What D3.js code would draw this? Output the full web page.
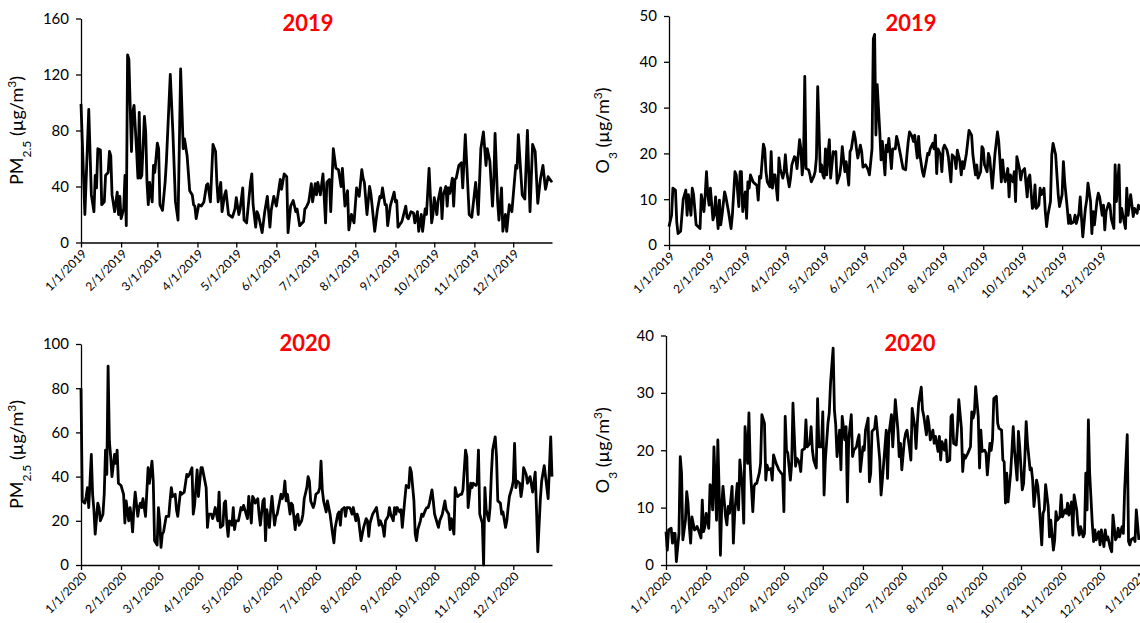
<!DOCTYPE html>
<html lang="en">
<head>
	<title>PM2.5 and O3, 2019 - 2020</title>
	<meta charset="utf-8">
	<script src="https://d3js.org/d3.v7.min.js" charset="utf-8"></script>
	<style>
		body { margin: 0; background: #fff; }
		svg text { font-family: Lato, "Open Sans", sans-serif; }
	</style>
</head>
<body>
	<script>
		// daily means, as (day of year, value) in two parallel arrays
		var pm2019Day = [
			0,3,6,8,10,11,12,13,15,16, 18,19,21,22,23,24,26,28,29,30,
			31,33,34,35,36,37,39,40,41,43, 44,45,46,47,49,50,51,52,53,55,
			56,57,59,60,61,63,65,66,69,71, 73,75,77,79,80,82,84,86,87,88,
			89,91,93,95,97,98,100,102,104,105, 106,108,109,111,112,114,117,119,120,122,
			123,125,126,128,131,132,133,135,136,137, 140,142,144,146,147,149,151,154,155,157,
			159,160,162,164,166,167,169,172,173,174, 176,178,179,181,182,183,185,187,189,190,
			192,193,195,197,199,201,202,204,206,207, 209,211,213,215,217,218,219,221,223,224,
			227,229,231,232,233,235,236,237,239,242, 243,244,245,248,251,252,253,255,257,258,
			260,261,263,264,266,267,269,271,272,273, 275,276,278,279,280,282,283,284,285,287,
			288,289,290,292,294,295,297,298,300,302, 305,307,309,311,313,314,316,318,319,320,
			322,323,325,326,328,329,331,333,336,337, 338,340,341,343,345,347,349,351,353,355,
			357,359,361,364
		];
		var pm2019 = [
			99,20,95,34,22,48,39,67,66,27, 29,48,50,65,62,34,22,36,20,33,
			17,24,48,12,134,131,65,93,98,65, 46,93,46,48,90,79,43,27,43,29,
			55,50,71,67,27,23,43,58,120,79, 29,16,124,67,74,62,37,34,27,26,
			17,27,26,29,41,42,29,70,65,43, 29,43,22,34,37,20,18,24,32,20,
			24,39,16,14,43,49,27,11,22,20, 7,22,33,11,23,33,26,45,38,49,
			47,7,26,30,22,24,12,15,24,25, 29,42,29,42,34,43,34,49,14,43,
			45,22,67,53,52,40,53,26,37,9, 20,14,39,33,52,46,43,20,40,35,
			8,23,33,32,39,27,27,12,26,36, 29,30,11,15,26,18,17,22,21,14,
			22,8,20,8,24,20,53,14,20,32, 20,30,39,17,34,40,26,39,35,46,
			26,45,46,55,57,39,77,58,20,18, 43,20,67,79,55,67,58,26,43,78,
			29,16,39,8,20,8,27,22,55,53, 77,48,34,31,80,22,70,65,28,45,
			55,38,47,43
		];

		var o3_2019Day = [
			0,2,3,5,6,7,9,10,11,13, 14,15,17,18,19,21,24,25,27,28,
			29,30,31,32,34,35,36,38,39,40, 41,43,44,46,48,49,51,52,54,55,
			56,57,59,60,61,62,63,65,66,68, 69,70,71,73,74,75,76,78,79,80,
			81,82,84,85,86,88,89,90,91,93, 94,95,97,98,99,101,102,103,104,105,
			106,108,109,110,112,113,114,115,117,118, 119,120,121,122,123,124,125,127,128,129,
			130,132,133,134,136,137,139,140,141,143, 144,145,146,148,149,150,152,154,155,157,
			158,159,160,161,163,164,165,167,168,169, 170,172,173,175,176,177,179,180,181,183,
			184,185,186,188,189,190,192,193,194,196, 197,199,200,201,202,204,205,206,207,208,
			210,211,212,213,215,216,218,219,221,222, 223,225,226,227,228,230,232,234,235,237,
			238,239,241,242,243,244,246,247,248,250, 251,252,254,255,257,258,259,260,262,263,
			264,266,267,268,269,271,272,273,275,277, 278,279,281,282,283,284,286,287,288,290,
			291,292,293,295,296,297,299,300,301,302, 304,305,306,308,309,310,311,313,314,315,
			317,318,319,320,322,323,324,326,327,328, 329,331,332,333,335,336,337,338,340,341,
			342,344,345,346,348,349,350,351,353,354, 355,357,358,359,360,362,363,364
		];
		var o3_2019 = [
			4,6.5,12.4,12,5,2.5,3,6.5,10,12, 6.5,11,6.5,12.4,11,4.4,3.6,11,7.3,11,
			16,11,8.7,12.4,5.5,6.5,10.5,3.6,9.8,4.4, 6.5,11.6,10.5,7.3,3.6,6.5,16,15.3,8.4,16,
			16,7.3,11.6,5.8,13.8,12.4,15.3,13.8,13.5,13, 9.8,15,14.6,22,21,16,13.8,12.7,20.4,12.4,
			15.3,15.3,9.8,19,16.7,14.6,16,19.7,16,12.7, 14.6,17.5,19.3,19,16.7,23,21,15.3,18,36.8,
			16.7,16.4,15.3,13.8,15,16,19,34.6,16,17.5, 15.3,14.6,21,15.3,20,23,14.6,20.4,20,20.4,
			13.5,15.3,17.5,21.5,16,18.2,13.1,20.4,21,24.7, 23.3,21,19,21.8,20.4,17,17.5,16.4,15.3,21,
			45,46,24,35,24.7,18.6,22.6,15.3,21.8,20.4, 23.3,16.7,21,21,23.7,22.6,19.7,18.2,16.7,16.4,
			19.7,22.6,24.7,23.7,22.6,24,19,23.7,19.7,16, 15,18.2,20,19.7,21,22.2,21,24,15.6,21,
			19.7,16,21,21.8,20.7,19.3,13.8,19.7,19,16.7, 20.7,18.2,15.3,18.2,16.7,20,25,24,19.7,15.3,
			17.5,14.6,16,21.5,21,17.5,16,20,19,12.4, 16,19.7,24.7,22.6,13.8,18.6,15.3,13.8,16.7,10.5,
			15.3,13.8,16,9.5,19.3,16.7,14.2,16,16.7,10.5, 14.6,15.3,8,8.4,13.1,8,8.7,12.4,11,12.4,
			7.3,4,6.5,9.5,19.7,22.2,19.7,15.3,11,8.4, 11,18.2,13.8,8,4.7,6.5,4.7,5,6.5,4.7,
			6.9,10.5,5.8,1.8,8,9.8,13.5,9.5,2.5,7.3, 4.4,9.8,11.3,10.5,6.5,8.7,3.3,7.3,9.1,8.7,
			5.8,3.6,17.5,9.5,17.5,5,8,6.5,3.6,12.4, 6.5,11,8.7,6.2,8,6.9,8.7,7.6
		];

		var pm2020Day = [
			0,1,3,4,5,6,8,9,10,11, 13,14,15,17,18,19,20,21,22,23,
			24,26,27,28,29,31,33,34,35,37, 38,39,40,41,42,44,45,46,47,48,
			50,52,53,55,56,57,59,60,61,62, 63,64,66,68,69,70,71,73,74,75,
			77,78,80,82,83,84,86,87,88,90, 91,93,94,95,97,98,99,101,102,103,
			104,106,107,108,110,111,112,113,114,115, 117,118,119,120,122,124,125,126,128,129,
			130,132,133,134,135,137,138,139,141,142, 143,144,146,147,148,150,151,152,153,155,
			156,157,158,159,160,162,163,164,166,167, 168,169,171,172,173,175,176,177,178,180,
			181,182,184,185,186,187,188,190,191,192, 193,195,196,197,199,200,201,202,204,205,
			206,208,209,210,211,213,214,215,217,218, 219,221,222,223,224,226,227,229,231,232,
			234,235,236,238,239,240,242,243,244,245, 247,248,249,251,252,254,255,256,258,259,
			260,261,263,264,265,267,268,269,270,272, 273,274,276,277,278,280,281,282,283,285,
			286,287,289,290,291,292,294,295,296,298, 299,300,302,303,304,306,307,308,309,311,
			312,313,314,316,317,318,319,321,322,323, 325,326,327,329,330,331,332,334,335,336,
			337,338,340,341,342,343,345,346,348,350, 352,353,354,356,357,359,360,362,364,365
		];
		var pm2020 = [
			80,29,28,31,35,26,50,32,25,14, 28,26,20,23,32,52,41,90,56,49,
			40,50,46,52,37,36,32,19,29,20, 26,22,15,26,33,22,26,28,26,30,
			22,44,37,47,38,11,9,26,20,8, 14,15,22,22,29,35,31,32,25,22,
			33,32,33,41,40,41,44,23,27,43, 31,44,44,41,35,17,23,23,21,23,
			26,20,33,17,18,28,29,19,13,20, 18,26,16,20,20,26,25,27,23,21,
			31,19,31,30,28,30,23,18,29,30, 11,25,17,25,31,18,22,23,26,32,
			30,32,38,29,32,23,28,27,16,22, 23,18,20,23,30,35,40,38,29,26,
			28,32,33,35,47,34,29,24,29,26, 23,14,10,17,23,24,18,25,26,22,
			26,26,25,23,26,20,23,21,11,14, 17,21,20,13,19,23,24,26,18,20,
			17,13,20,22,26,23,20,26,23,26, 24,25,17,30,36,35,44,42,29,14,
			11,16,20,23,22,25,26,26,28,34, 29,23,19,17,20,23,26,29,25,23,
			16,21,14,35,32,31,32,32,34,52, 49,26,37,35,37,36,37,52,23,19,
			0,35,25,20,26,41,52,58,49,29, 28,23,24,17,20,26,31,35,38,55,
			35,38,37,31,35,44,41,37,40,33, 42,25,6,30,38,45,40,30,58,40
		];

		var o3_2020Day = [
			0,1,2,4,5,6,7,8,10,11, 12,13,15,16,17,18,19,20,22,23,
			24,25,27,28,29,30,31,33,34,35, 36,37,39,40,41,42,43,44,46,47,
			48,49,51,52,53,55,56,57,58,59, 60,61,63,64,65,67,68,69,70,72,
			73,74,76,77,78,79,81,82,83,85, 86,87,88,90,91,92,93,94,96,97,
			98,100,101,102,103,104,105,107,108,109, 111,112,113,114,116,117,118,120,121,122,
			123,125,126,127,129,130,131,132,134,135, 136,138,139,140,141,143,144,145,147,148,
			149,150,152,153,154,156,157,158,159,161, 162,163,165,166,167,168,170,171,172,174,
			175,176,177,179,180,181,182,184,185,186, 188,189,190,192,193,194,195,197,198,199,
			201,202,203,204,206,207,208,210,211,212, 213,215,216,217,219,220,221,222,224,225,
			226,228,229,230,231,233,235,236,237,238, 239,241,242,243,244,246,247,248,250,251,
			252,253,255,256,257,259,260,261,262,263, 264,266,267,268,269,271,272,273,275,276,
			277,278,279,281,282,283,284,286,287,288, 290,291,292,293,295,296,297,299,300,301,
			302,304,305,306,308,309,310,311,313,314, 315,317,318,319,320,322,323,324,325,326,
			327,329,330,331,332,334,335,336,338,339, 340,341,343,344,345,347,348,349,350,352,
			353,354,356,357,358,359,361,362,363,365
		];
		var o3_2020 = [
			5.8,2.6,6.1,6.4,3.8,5.5,5.5,0.6,5.5,18.9, 16,4.4,7.8,12.8,10.8,6.7,3.8,8.4,6.1,6.3,
			6.7,6.1,4.7,11.3,5.8,6.7,9,6.4,14,13.7, 9.6,20.6,7.8,21.8,13.1,1.7,10.2,13.7,8.4,7,
			10.2,9,13.7,3.8,9,14.2,9.6,18.3,16,13.1, 7.3,24.1,17.7,26.5,17.4,9.3,13.7,14.2,14.2,16,
			17.7,26.2,24.7,14.8,17.4,16.6,16.8,14.8,19.2,17.7, 17.2,16.6,16.3,15.7,9.3,25.9,20,19.5,14.8,17.7,
			28.2,17.2,18.6,18.3,17.7,16.3,20,20.3,25.3,20.6, 21.2,24.1,20,18.3,16.9,29,20.6,20.6,26.7,12.2,
			18.3,24.7,26.5,31.7,37.8,27,24.4,18.9,23.5,16.6, 25.9,21.8,24.1,11,21.8,26.2,18.9,20,20.6,21.8,
			22.7,16.3,20.6,20,23.5,25.6,14.5,16,23.3,23.8, 25.9,23.5,18.3,12.2,14.8,17.7,23.5,15.1,22.7,26.2,
			20.6,24.7,28.8,23.5,18.9,21.2,16.6,21.8,23,23.5, 20.3,18.3,27.3,24.1,20.3,24.7,28.2,31,27,25.9,
			22.7,25.9,24.4,21.8,23.5,21.2,22.4,19.8,22.4,18.3, 21.5,20,21.8,18,18.3,25.9,26.2,21.2,20.9,24.1,
			28.8,23.8,16.3,19.2,18.6,19.5,20.6,26.7,25.6,26.5, 31.1,25.9,16.9,23.5,19.8,20,19.5,15.7,21.2,20,
			21.8,29,29.4,24.7,23.8,23.5,18.3,18,10.8,16, 11,16,20,24.1,20,14.8,23.3,20.6,13.1,14.2,
			18.9,25,21.2,16.6,16.9,14.8,10.2,14.8,13.7,10.8, 3.5,9,9.6,14,10.2,4.9,7.8,2.6,4.4,9.3,
			7.8,8.4,12.2,8.4,9.6,9,10.8,8.7,11,5.2, 12.2,9.6,6.7,5.2,6.7,4.9,5.5,16,9.6,25.3,
			16,7.3,4.1,6.1,4.4,5.8,3.5,6.1,3.2,6.1, 4.4,4.9,2.9,2.3,8.7,4.4,4.9,6.4,4.9,6.7,
			5.5,13.1,22.7,4.1,3.5,4.4,4.7,4.1,9.6,4.4
		];

		// y tick labels for each panel
		var pmTicks2019 = [0, 40, 80, 120, 160];
		var o3Ticks2019 = [0, 10, 20, 30, 40, 50];
		var pmTicks2020 = [0, 20, 40, 60, 80, 100];
		var o3Ticks2020 = [0, 10, 20, 30, 40];

		var w = 1140;
		var h = 623;

		var svg = d3.select("body")
			.append("svg")
			.attr("width", w)
			.attr("height", h);

		// one entry per panel: where it sits and what goes in it
		var panels = [
			{ days: pm2019Day, vals: pm2019, start: new Date(2019, 0, 1), end: new Date(2019, 11, 31),
			  left: 81, right: 552, top: 18.5, bottom: 242.5, ticks: pmTicks2019,
			  title: "2019", titleX: 308, titleY: 31, pollutant: "PM", sub: "2.5", labelX: 23 },
			{ days: o3_2019Day, vals: o3_2019, start: new Date(2019, 0, 1), end: new Date(2019, 11, 31),
			  left: 669, right: 1139.7, top: 16, bottom: 245, ticks: o3Ticks2019,
			  title: "2019", titleX: 911, titleY: 31, pollutant: "O", sub: "3", labelX: 609 },
			{ days: pm2020Day, vals: pm2020, start: new Date(2020, 0, 1), end: new Date(2020, 11, 31),
			  left: 81, right: 552, top: 344, bottom: 565, ticks: pmTicks2020,
			  title: "2020", titleX: 305, titleY: 351, pollutant: "PM", sub: "2.5", labelX: 23 },
			{ days: o3_2020Day, vals: o3_2020, start: new Date(2020, 0, 1), end: new Date(2021, 0, 1),
			  left: 666, right: 1140.2, top: 335.5, bottom: 565, ticks: o3Ticks2020,
			  title: "2020", titleX: 910, titleY: 351, pollutant: "O", sub: "3", labelX: 609 }
		];

		var fmt = d3.timeFormat("%-m/%-d/%Y");

		panels.forEach(function(p) {
			var x = d3.scaleTime()
				.domain([p.start, p.end])
				.range([p.left, p.right]);
			var y = d3.scaleLinear()
				.domain([0, d3.max(p.ticks)])
				.range([p.bottom, p.top]);

			var data = d3.zip(p.days, p.vals).map(function(d) {
				return { date: d3.timeDay.offset(p.start, d[0]), v: d[1] };
			});

			var g = svg.append("g");

			// x axis, one tick per month, labels slanted
			var xAxis = g.append("g")
				.attr("transform", "translate(0," + p.bottom + ")")
				.call(d3.axisBottom(x)
					.tickValues(d3.timeMonth.range(p.start, d3.timeDay.offset(p.end, 1)))
					.tickFormat(fmt)
					.tickSize(5)
					.tickSizeOuter(0));
			xAxis.selectAll("text")
				.attr("x", 0)
				.attr("y", 0)
				.attr("dy", "0.35em")
				.attr("text-anchor", "end")
				.attr("transform", "translate(3,9) rotate(-45)")
				.style("font-size", "12px")
				.attr("fill", "#000");

			// y axis
			var yAxis = g.append("g")
				.attr("transform", "translate(" + p.left + ",0)")
				.call(d3.axisLeft(y)
					.tickValues(p.ticks)
					.tickSize(5)
					.tickSizeOuter(0)
					.tickPadding(7));
			yAxis.selectAll("text")
				.style("font-size", "15px")
				.attr("fill", "#000");

			g.selectAll(".domain, .tick line")
				.attr("stroke", "#000")
				.attr("stroke-width", 1.3);

			// the series
			g.append("path")
				.datum(data)
				.attr("fill", "none")
				.attr("stroke", "#000")
				.attr("stroke-width", 2.8)
				.attr("stroke-linejoin", "round")
				.attr("d", d3.line()
					.x(function(d) { return x(d.date); })
					.y(function(d) { return y(d.v); }));

			// year title
			g.append("text")
				.attr("x", p.titleX)
				.attr("y", p.titleY)
				.attr("text-anchor", "middle")
				.style("font-size", "22px")
				.style("font-weight", "bold")
				.attr("fill", "#ff0000")
				.text(p.title);

			// axis title with sub / superscript
			var lab = g.append("text")
				.attr("text-anchor", "middle")
				.attr("transform", "translate(" + p.labelX + "," + ((p.top + p.bottom) / 2) + ") rotate(-90)")
				.style("font-size", "18px")
				.attr("fill", "#000");
			lab.append("tspan").text(p.pollutant);
			lab.append("tspan").attr("baseline-shift", "sub").style("font-size", "12px").text(p.sub);
			lab.append("tspan").text(" (\u00b5g/m");
			lab.append("tspan").attr("baseline-shift", "super").style("font-size", "12px").text("3");
			lab.append("tspan").text(")");
		});
	</script>
</body>
</html>
